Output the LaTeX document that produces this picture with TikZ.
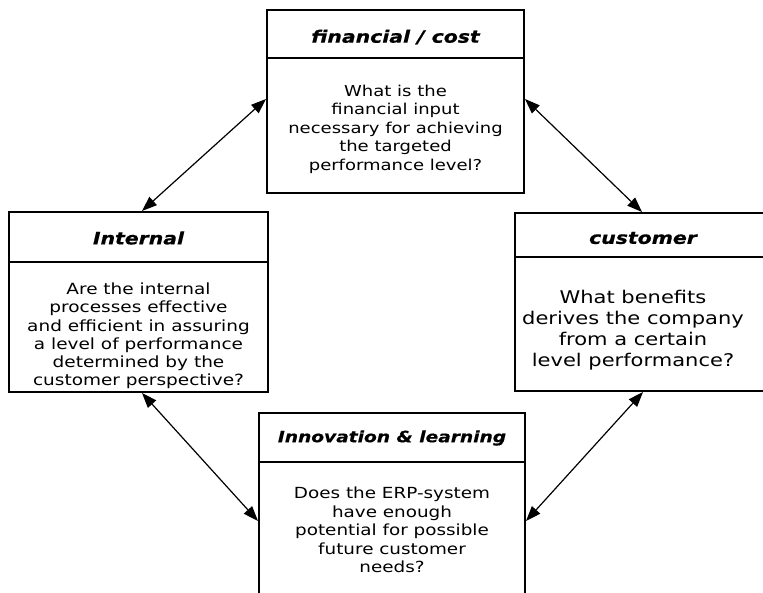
\documentclass[tikz,border=0pt]{standalone}
\usepackage{fontspec}
\setmainfont{DejaVu Sans}
\newfontfamily\bodyfnt[FakeStretch=1.2]{DejaVu Sans}
\newfontfamily\ttlfnt[FakeStretch=1.2,FakeBold=0.6]{DejaVu Sans Bold Oblique}
\usetikzlibrary{arrows.meta}
\tikzset{
  box/.style={draw, line width=2pt, rectangle, inner sep=0pt},
  divider/.style={line width=2pt},
  ttl/.style={font={\ttlfnt\fontsize{17}{19}\selectfont}, inner sep=0pt},
  body/.style={align=center, inner sep=0pt, font={\bodyfnt\fontsize{15}{18.5}\selectfont}},
  link/.style={line width=1.2pt, {Triangle[length=15pt,width=11pt]}-{Triangle[length=15pt,width=11pt]}}
}
\begin{document}
\begin{tikzpicture}[x=1pt,y=-1pt]
\useasboundingbox[fill=white] (0,0) rectangle (763,592);
% financial box
\node[box, minimum width=257pt, minimum height=183pt] (fin) at (395.5,101.5) {};
\draw[divider] (fin.west |- 0,58) -- (fin.east |- 0,58);
\node[ttl] (fint) at (395.5,37) {financial / cost};
\node[body] (finb) at (395.5,129) {What is the\\financial input\\necessary for achieving\\the targeted\\performance level?};
% internal box
\node[box, minimum width=259pt, minimum height=180pt] (int) at (138.5,302) {};
\draw[divider] (int.west |- 0,262) -- (int.east |- 0,262);
\node[ttl] (intt) at (138.5,238) {Internal};
\node[body, font={\bodyfnt\fontsize{15.4}{18.2}\selectfont}] (intb) at (138.5,336) {Are the internal\\processes effective\\and efficient in assuring\\a level of performance\\determined by the\\customer perspective?};
% customer box
\node[box, minimum width=262pt, minimum height=178pt] (cust) at (646,302) {};
\draw[divider] (cust.west |- 0,257) -- (cust.east |- 0,257);
\node[ttl] (custt) at (643,238) {customer};
\node[body, font={\bodyfnt\fontsize{17.5}{21}\selectfont}] (custb) at (633,330) {What benefits\\derives the company\\from a certain\\level performance?};
% innovation box
\node[box, minimum width=266pt, minimum height=200pt] (inn) at (392,513) {};
\draw[divider] (inn.west |- 0,462) -- (inn.east |- 0,462);
\node[ttl, font={\ttlfnt\fontsize{15.5}{18}\selectfont}] (innt) at (392,438) {Innovation \& learning};
\node[body, font={\bodyfnt\fontsize{15.3}{18.5}\selectfont}] (innb) at (392,530) {Does the ERP-system\\have enough\\potential for possible\\future customer\\needs?};
% connectors
\draw[link] ([xshift=134pt]int.north west) -- ([yshift=-90pt]fin.north west);
\draw[link] ([yshift=-90pt]fin.north east) -- ([xshift=128pt]cust.north west);
\draw[link] ([xshift=134pt]int.south west) -- ([yshift=-109pt]inn.north west);
\draw[link] ([xshift=129pt]cust.south west) -- ([yshift=-109pt]inn.north east);
\end{tikzpicture}
\end{document}
